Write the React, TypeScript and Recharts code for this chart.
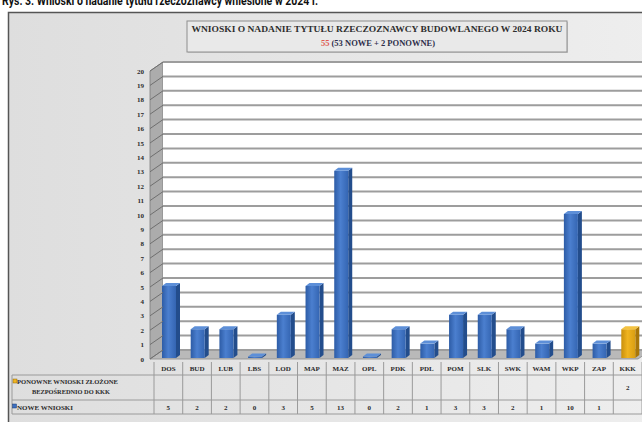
import React from "react";
import { BarChart, Bar, XAxis, YAxis, CartesianGrid } from "recharts";

// Wnioski o nadanie tytułu rzeczoznawcy budowlanego, 2024
const REGIONS = ["DOS", "BUD", "LUB", "LBS", "LOD", "MAP", "MAZ", "OPL", "PDK", "PDL", "POM", "SLK", "SWK", "WAM", "WKP", "ZAP", "KKK"];
const NOWE: (number | null)[] = [5, 2, 2, 0, 3, 5, 13, 0, 2, 1, 3, 3, 2, 1, 10, 1, null];
const PONOWNE: (number | null)[] = [null, null, null, null, null, null, null, null, null, null, null, null, null, null, null, null, 2];
const Y_TICKS = [0, 1, 2, 3, 4, 5, 6, 7, 8, 9, 10, 11, 12, 13, 14, 15, 16, 17, 18, 19, 20];

const CAPTION = "Rys. 3. Wnioski o nadanie tytułu rzeczoznawcy wniesione w 2024 r.";
const TITLE = "WNIOSKI O NADANIE TYTUŁU RZECZOZNAWCY BUDOWLANEGO W 2024 ROKU";
const ROW_PONOWNE = ["PONOWNE WNIOSKI ZŁOŻONE", "BEZPOŚREDNIO DO KKK"];
const ROW_NOWE = "NOWE WNIOSKI";

const sum = (a: (number | null)[]) => a.reduce<number>((s, v) => s + (v ?? 0), 0);
const totalNowe = sum(NOWE);
const totalPonowne = sum(PONOWNE);

const rows = REGIONS.map((region, i) => ({ region, nowe: NOWE[i], ponowne: PONOWNE[i] }));

// layout
const CHART_W = 660;
const CHART_H = 422;
const PLOT_L = 163;
const PLOT_T = 62;
const PLOT_R = 651;
const PLOT_B = 350;
const BAND = (PLOT_R - PLOT_L) / REGIONS.length;
const WALL_DX = 13; // depth of side wall / floor
const WALL_DY = 9;
const BAR_DX = -8; // bars sit in front of the back wall
const BAR_DY = 8;
const BAR_DEPTH = 4;
const TABLE_DX = -9;
const TABLE_L = 12;
const SERIF = "'Liberation Serif', 'Times New Roman', serif";

const makeBarShape = (key: "nowe" | "ponowne", fill: string, side: string, top: string) => (props: any) => {
  const { x, y, width, height, payload } = props;
  if (payload == null || payload[key] == null) return <g />;
  const fx = x + BAR_DX;
  const fy = y + BAR_DY;
  const h = Math.max(height, 1.5);
  const yy = height > 0 ? fy : fy + height - 1.5;
  return (
    <g>
      <polygon
        points={`${fx + width},${yy} ${fx + width + BAR_DEPTH},${yy - 3} ${fx + width + BAR_DEPTH},${yy + h - 3} ${fx + width},${yy + h}`}
        fill={side}
      />
      <rect x={fx} y={yy} width={width} height={h} fill={fill} />
      <polygon
        points={`${fx},${yy} ${fx + BAR_DEPTH},${yy - 3} ${fx + width + BAR_DEPTH},${yy - 3} ${fx + width},${yy}`}
        fill={top}
      />
    </g>
  );
};

const NoweBar = makeBarShape("nowe", "url(#blueFront)", "#234d8c", "#5d8fd8");
const PonowneBar = makeBarShape("ponowne", "url(#goldFront)", "#a87608", "#f3c241");

function YTick(props: any) {
  const { x, y, payload } = props;
  return (
    <g>
      <line x1={x - WALL_DX} y1={y + WALL_DY} x2={x} y2={y} stroke="#6f6f6f" strokeWidth={1} />
      <text x={x - 19} y={y + WALL_DY + 2.5} textAnchor="end" fontFamily={SERIF} fontWeight="bold" fontSize={7} fill="#2a2a2a">
        {payload.value}
      </text>
    </g>
  );
}

function TableColumn(props: any) {
  const { x, y, payload } = props;
  const i = payload.index;
  const cx = x + TABLE_DX;
  const left = cx - BAND / 2;
  const right = cx + BAND / 2;
  const p = PONOWNE[i];
  const n = NOWE[i];
  const txt = { fontFamily: SERIF, fontWeight: "bold" as const, fontSize: 7, fill: "#2a2a2a", textAnchor: "middle" as const };
  return (
    <g>
      <line x1={right} y1={y + 12} x2={right} y2={y + 64} stroke="#9a9a9a" />
      {i === 0 && <line x1={left} y1={y + 12} x2={left} y2={y + 64} stroke="#9a9a9a" />}
      <text x={cx} y={y + 21} {...txt}>{payload.value}</text>
      <text x={cx} y={y + 40} {...txt}>{p ?? ""}</text>
      <text x={cx} y={y + 60} {...txt}>{n ?? ""}</text>
    </g>
  );
}

export default function App() {
  const legendY1 = PLOT_B + 25;
  const legendY2 = PLOT_B + 50;
  const tableBottom = PLOT_B + 64;
  return (
    <div style={{ position: "absolute", left: 0, top: 0, width: 642, height: 422, overflow: "hidden", background: "#ffffff" }}>
      <svg width={642} height={422} style={{ position: "absolute", left: 0, top: 0 }}>
        <defs>
          <linearGradient id="frameFill" x1="0" y1="0" x2="1" y2="0">
            <stop offset="0" stopColor="#dedede" />
            <stop offset="1" stopColor="#eeeeee" />
          </linearGradient>
          <linearGradient id="blueFront" x1="0" y1="0" x2="1" y2="0">
            <stop offset="0" stopColor="#2d5ca6" />
            <stop offset="0.45" stopColor="#4b7fcf" />
            <stop offset="1" stopColor="#3465b2" />
          </linearGradient>
          <linearGradient id="goldFront" x1="0" y1="0" x2="1" y2="0">
            <stop offset="0" stopColor="#c98f0c" />
            <stop offset="0.45" stopColor="#f0b420" />
            <stop offset="1" stopColor="#d99e12" />
          </linearGradient>
        </defs>
        <text x={2} y={5} fontFamily="Roboto, sans-serif" fontWeight="bold" fontSize={13} fill="#111" textLength={316} lengthAdjust="spacingAndGlyphs">
          {CAPTION}
        </text>
        <rect x={8.5} y={12.5} width={650} height={420} fill="url(#frameFill)" stroke="#555" strokeWidth={1.5} />
        {/* title box */}
        <rect x={188} y={22} width={380} height={31} fill="#c9c9c9" />
        <rect x={187} y={21} width={380} height={31} fill="#e9e9e9" stroke="#8e8e8e" />
        <text x={377} y={32} textAnchor="middle" fontFamily={SERIF} fontWeight="bold" fontSize={8.5} fill="#2e2e2e" textLength={371} lengthAdjust="spacingAndGlyphs">
          {TITLE}
        </text>
        <text x={378} y={46} textAnchor="middle" fontFamily={SERIF} fontWeight="bold" fontSize={8.5} fill="#2e2e4a">
          <tspan fill="#e0584f">{totalNowe + totalPonowne}</tspan>
          {` (${totalNowe} NOWE + ${totalPonowne} PONOWNE)`}
        </text>
        {/* side wall and floor */}
        <polygon
          points={`${PLOT_L - WALL_DX},${PLOT_B + WALL_DY} ${PLOT_L - WALL_DX},${PLOT_T + WALL_DY} ${PLOT_L},${PLOT_T} ${PLOT_L},${PLOT_B}`}
          fill="#acacac"
          stroke="#7c7c7c"
          strokeWidth={0.8}
        />
        <polygon
          points={`${PLOT_L - WALL_DX},${PLOT_B + WALL_DY} ${PLOT_L},${PLOT_B} ${PLOT_R},${PLOT_B} ${PLOT_R - WALL_DX},${PLOT_B + WALL_DY}`}
          fill="#b9b9b9"
          stroke="#8a8a8a"
          strokeWidth={0.8}
        />
        {/* data table row headers */}
        <line x1={TABLE_L} y1={legendY1} x2={642} y2={legendY1} stroke="#9a9a9a" />
        <line x1={TABLE_L} y1={legendY2} x2={642} y2={legendY2} stroke="#9a9a9a" />
        <line x1={TABLE_L} y1={tableBottom} x2={642} y2={tableBottom} stroke="#9a9a9a" />
        <line x1={TABLE_L} y1={legendY1} x2={TABLE_L} y2={tableBottom} stroke="#9a9a9a" />
        <rect x={13} y={legendY1 + 4} width={4} height={4} fill="#f0b420" stroke="#8a6a10" strokeWidth={0.5} />
        <text x={17} y={legendY1 + 9} fontFamily={SERIF} fontWeight="bold" fontSize={6.5} fill="#2a2a2a" textLength={101} lengthAdjust="spacingAndGlyphs">
          {ROW_PONOWNE[0]}
        </text>
        <text x={71} y={legendY1 + 19} textAnchor="middle" fontFamily={SERIF} fontWeight="bold" fontSize={6.5} fill="#2a2a2a" textLength={78} lengthAdjust="spacingAndGlyphs">
          {ROW_PONOWNE[1]}
        </text>
        <rect x={12.5} y={legendY2 + 4} width={4} height={4} fill="#3d6fc0" stroke="#1f3f70" strokeWidth={0.5} />
        <text x={17} y={legendY2 + 10} fontFamily={SERIF} fontWeight="bold" fontSize={6.5} fill="#2a2a2a" textLength={56} lengthAdjust="spacingAndGlyphs">
          {ROW_NOWE}
        </text>
      </svg>
      <div style={{ position: "absolute", left: 0, top: 0 }}>
        <BarChart width={CHART_W} height={CHART_H} data={rows} margin={{ top: PLOT_T, right: CHART_W - PLOT_R, bottom: 0, left: 0 }}>
          <CartesianGrid vertical={false} stroke="#9d9d9d" strokeWidth={2} fill="#ffffff" />
          <XAxis
            dataKey="region"
            height={CHART_H - PLOT_B - PLOT_T + PLOT_T}
            interval={0}
            axisLine={false}
            tickLine={false}
            tickSize={0}
            tickMargin={0}
            tick={<TableColumn />}
          />
          <YAxis
            width={PLOT_L}
            domain={[0, 20]}
            ticks={Y_TICKS}
            interval={0}
            axisLine={false}
            tickLine={false}
            tickSize={0}
            tickMargin={0}
            tick={<YTick />}
          />
          <Bar dataKey="nowe" stackId="s" barSize={14} shape={NoweBar} isAnimationActive={false} />
          <Bar dataKey="ponowne" stackId="s" barSize={14} shape={PonowneBar} isAnimationActive={false} />
        </BarChart>
      </div>
    </div>
  );
}
